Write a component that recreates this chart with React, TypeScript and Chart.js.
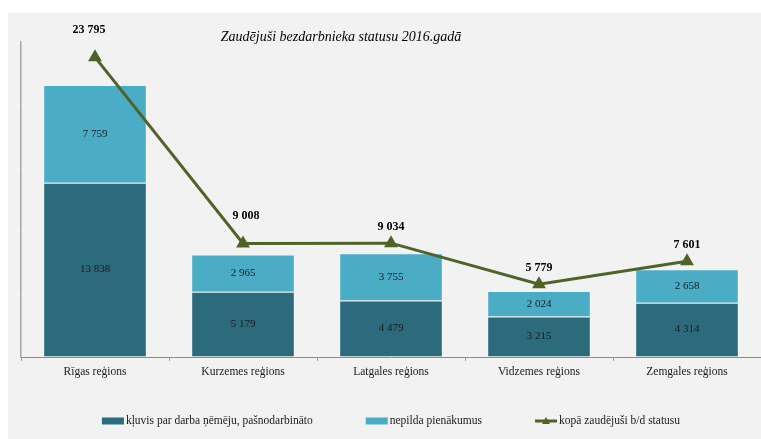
import React, { useEffect, useRef } from "react";
import { Chart, registerables } from "chart.js";

Chart.register(...registerables);

const title = "Zaudējuši bezdarbnieka statusu 2016.gadā";
const categories = [
  "Rīgas reģions",
  "Kurzemes reģions",
  "Latgales reģions",
  "Vidzemes reģions",
  "Zemgales reģions",
];
const employedSelf = [13838, 5179, 4479, 3215, 4314];
const notFulfilling = [7759, 2965, 3755, 2024, 2658];
const totalLost = [23795, 9008, 9034, 5779, 7601];
const seriesNames = [
  "kļuvis par darba ņēmēju, pašnodarbināto",
  "nepilda pienākumus",
  "kopā zaudējuši b/d statusu",
];
const yMax = 25000;
const yStep = 5000;

// label placement (styling only)
const totalLabelDy = [27, 28, 16, 16, 16];
const totalLabelDx = [-6, 3, 0, 0, 0];

const DARK = "#2B6B7C";
const LIGHT = "#4BACC6";
const OLIVE = "#4F6228";
const SERIF = '"Liberation Serif", "Times New Roman", serif';

const fmt = (n: number) => String(n).replace(/\B(?=(\d{3})+(?!\d))/g, " ");

const overlay = {
  id: "overlay",
  afterDatasetsDraw(chart: any) {
    const ctx = chart.ctx;
    ctx.save();
    ctx.font = `11px ${SERIF}`;
    ctx.fillStyle = "#1a1a1a";
    ctx.textAlign = "center";
    ctx.textBaseline = "middle";
    [0, 1].forEach((di) => {
      const meta = chart.getDatasetMeta(di);
      const data = chart.data.datasets[di].data;
      meta.data.forEach((el: any, i: number) => {
        const cy = (el.y + el.base) / 2;
        ctx.fillText(fmt(data[i]), el.x, cy);
      });
    });
    ctx.font = `bold 12px ${SERIF}`;
    ctx.fillStyle = "#000";
    const lm = chart.getDatasetMeta(2);
    lm.data.forEach((el: any, i: number) => {
      ctx.fillText(fmt(totalLost[i]), el.x + totalLabelDx[i], el.y - totalLabelDy[i]);
    });
    ctx.restore();
  },
  afterDraw(chart: any) {
    const ctx = chart.ctx;
    ctx.save();
    ctx.font = `italic 14px ${SERIF}`;
    ctx.fillStyle = "#000";
    ctx.textAlign = "center";
    ctx.textBaseline = "middle";
    ctx.fillText(title, 333, 24);
    ctx.font = `11.5px ${SERIF}`;
    ctx.textAlign = "left";
    const gap = 53;
    const box = 22;
    const widths = seriesNames.map((s) => box + 2 + ctx.measureText(s).width);
    const total = widths.reduce((a, b) => a + b, 0) + gap * (widths.length - 1);
    let x = 383 - total / 2;
    const y = 408;
    seriesNames.forEach((s, i) => {
      if (i < 2) {
        ctx.fillStyle = i === 0 ? DARK : LIGHT;
        ctx.fillRect(x, y - 3.5, box, 7);
      } else {
        ctx.strokeStyle = OLIVE;
        ctx.lineWidth = 3;
        ctx.beginPath();
        ctx.moveTo(x, y);
        ctx.lineTo(x + box, y);
        ctx.stroke();
        ctx.fillStyle = OLIVE;
        ctx.beginPath();
        ctx.moveTo(x + box / 2, y - 4);
        ctx.lineTo(x + box / 2 + 4, y + 3);
        ctx.lineTo(x + box / 2 - 4, y + 3);
        ctx.closePath();
        ctx.fill();
      }
      ctx.fillStyle = "#1a1a1a";
      ctx.fillText(s, x + box + 2, y);
      x += widths[i] + gap;
    });
    ctx.restore();
  },
};

export default function App() {
  const ref = useRef<HTMLCanvasElement>(null);
  useEffect(() => {
    if (!ref.current) return;
    const chart = new Chart(ref.current, {
      type: "bar",
      data: {
        labels: categories,
        datasets: [
          {
            type: "bar",
            label: seriesNames[0],
            data: employedSelf,
            backgroundColor: DARK,
            borderColor: "rgba(255,255,255,0.15)",
            borderWidth: 1,
            stack: "bars",
            order: 2,
            barPercentage: 0.7,
            categoryPercentage: 1,
          },
          {
            type: "bar",
            label: seriesNames[1],
            data: notFulfilling,
            backgroundColor: LIGHT,
            borderColor: "rgba(255,255,255,0.15)",
            borderWidth: 1,
            stack: "bars",
            order: 2,
            barPercentage: 0.7,
            categoryPercentage: 1,
          },
          {
            type: "line",
            label: seriesNames[2],
            data: totalLost,
            borderColor: OLIVE,
            backgroundColor: OLIVE,
            borderWidth: 3,
            pointStyle: "triangle",
            pointRadius: 5,
            pointBackgroundColor: OLIVE,
            pointBorderColor: OLIVE,
            stack: "line",
            order: 0,
            tension: 0,
          } as any,
        ],
      },
      options: {
        responsive: false,
        animation: false,
        layout: { autoPadding: false, padding: { left: 13, top: 29, right: 0, bottom: 52 } },
        plugins: {
          legend: { display: false },
          title: { display: false },
          tooltip: { enabled: false },
        },
        scales: {
          x: {
            stacked: true,
            offset: true,
            grid: {
              display: true,
              drawOnChartArea: false,
              drawTicks: true,
              tickLength: 4,
              color: "#9A9A9A",
              offset: true,
            },
            border: { display: true, color: "#8C8C8C", width: 1 },
            ticks: {
              padding: 4,
              color: "#1a1a1a",
              font: { family: SERIF, size: 11.5 },
              maxRotation: 0,
              autoSkip: false,
            },
            afterFit: (s: any) => {
              s.height = 30;
              s.paddingLeft = 0;
              s.paddingRight = 0;
            },
          },
          y: {
            stacked: true,
            min: 0,
            max: yMax,
            ticks: { display: false, stepSize: yStep },
            grid: {
              display: true,
              drawOnChartArea: false,
              drawTicks: true,
              tickLength: 4,
              color: "rgba(255,255,255,0.8)",
            },
            border: { display: true, color: "#A6A6A6", width: 1.5 },
            afterFit: (s: any) => {
              s.width = 0;
              s.paddingTop = 0;
              s.paddingBottom = 0;
            },
          },
        },
      },
      plugins: [overlay],
    });
    return () => chart.destroy();
  }, []);
  return (
    <div
      style={{
        position: "fixed",
        left: 8,
        top: 13,
        width: 753,
        height: 426,
        background: "#F2F2F2",
        overflow: "hidden",
      }}
    >
      <canvas
        ref={ref}
        width={753}
        height={426}
        style={{ display: "block", width: 753, height: 426 }}
      />
    </div>
  );
}
